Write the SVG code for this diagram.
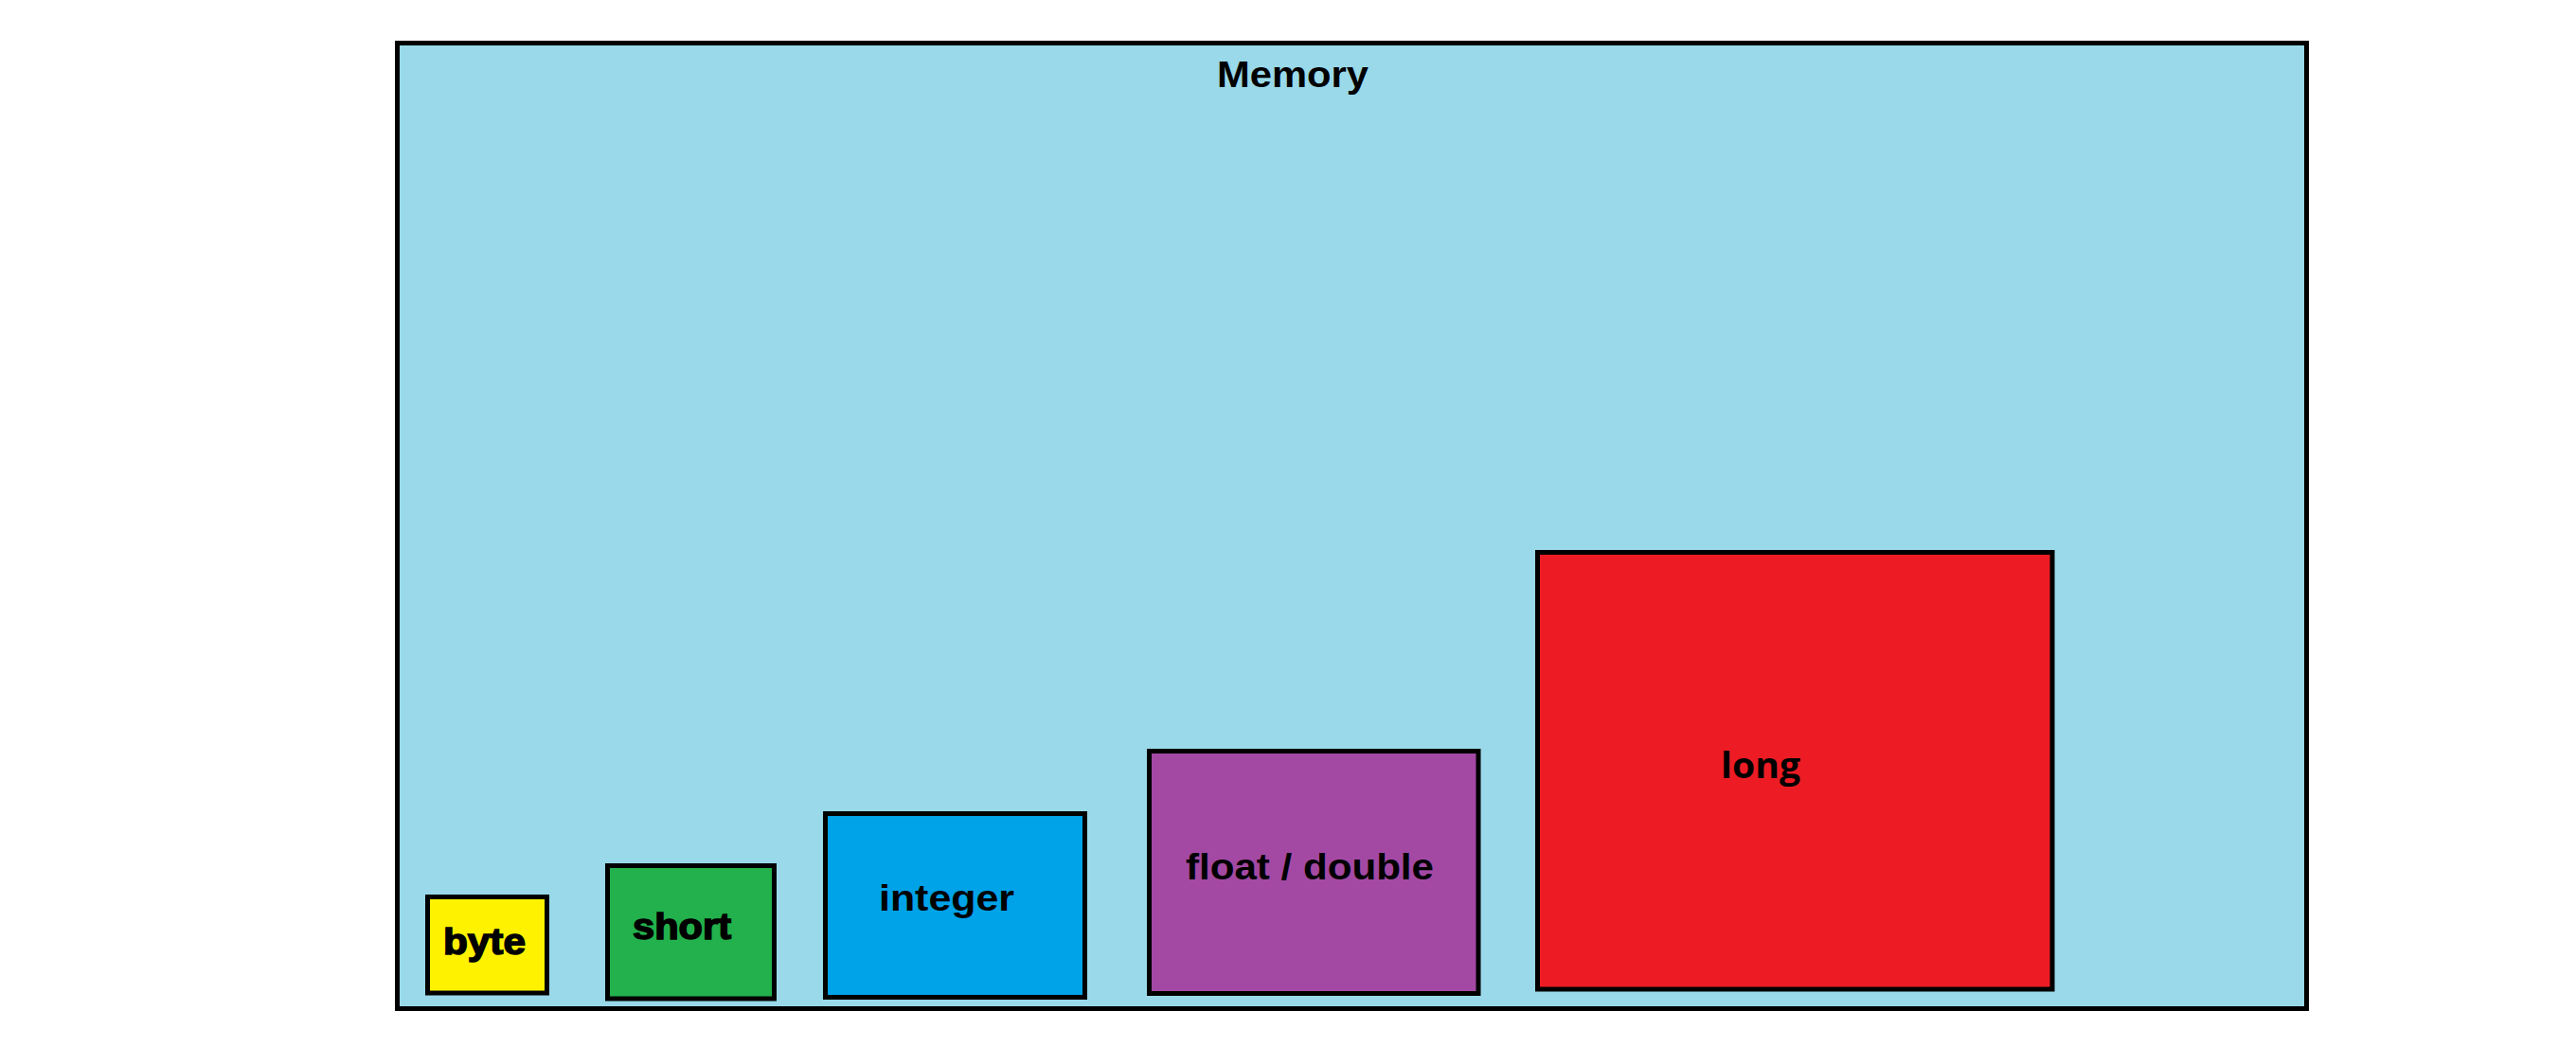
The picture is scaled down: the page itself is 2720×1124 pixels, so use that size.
<svg xmlns="http://www.w3.org/2000/svg" width="2720" height="1124" viewBox="0 0 2720 1124">
<style>
rect.box{stroke:#000;stroke-width:5}
text{font-family:"Liberation Sans",Arial,sans-serif;font-weight:bold;fill:#000;font-size:38px}
text.heavy{stroke:#000;stroke-width:1.5}
text.seg{font-family:"Open Sans","DejaVu Sans",sans-serif}
</style>
<rect x="0" y="0" width="2720" height="1124" fill="#fff"/>
<g id="memory">
<rect class="box" x="419.5" y="45.5" width="2016" height="1020" fill="#99D9EA"/>
<text x="1285" y="92" textLength="160" lengthAdjust="spacingAndGlyphs">Memory</text>
</g>
<g id="byte">
<rect class="box" x="451.5" y="947.5" width="126" height="101.5" fill="#FFF200"/>
<text class="heavy" x="468" y="1008" font-size="39" textLength="87" lengthAdjust="spacingAndGlyphs">byte</text>
</g>
<g id="short">
<rect class="box" x="641.5" y="914.5" width="176" height="140.5" fill="#22B14C"/>
<text class="heavy" x="668" y="992" textLength="104" lengthAdjust="spacingAndGlyphs">short</text>
</g>
<g id="integer">
<rect class="box" x="871.5" y="859.5" width="274" height="194" fill="#00A2E8"/>
<text x="928" y="962" textLength="143" lengthAdjust="spacingAndGlyphs">integer</text>
</g>
<g id="float-double">
<rect class="box" x="1213.5" y="793.5" width="347.5" height="256" fill="#A349A4"/>
<text x="1252" y="929" font-size="37" textLength="262" lengthAdjust="spacingAndGlyphs">float / double</text>
</g>
<g id="long">
<rect class="box" x="1623.5" y="583.5" width="543.5" height="461.5" fill="#ED1C24"/>
<text class="seg" x="1817" y="822" font-size="36" textLength="84" lengthAdjust="spacingAndGlyphs">long</text>
</g>
<g id="connectors"></g>
</svg>
